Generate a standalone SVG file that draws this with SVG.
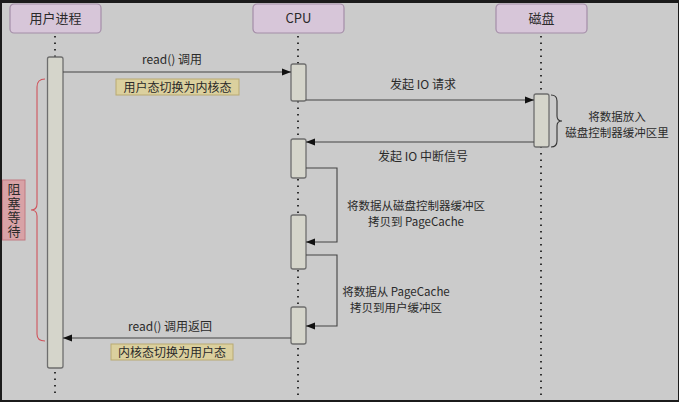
<svg xmlns="http://www.w3.org/2000/svg" width="679" height="402" viewBox="0 0 679 402">
<defs>
<style>
text{font-family:"Noto Sans CJK SC","Liberation Sans",sans-serif;font-size:12px;fill:#2a2a2a;text-anchor:middle}
.two{font-size:11.5px}
.head{fill:#d7c6d9;stroke:#a48ea8;stroke-width:1.2}
.bar{fill:#d5d5cb;stroke:#6e6e6e;stroke-width:1.3}
.life{stroke:#222;stroke-width:1.8;stroke-dasharray:1.5 5;fill:none}
.msg{stroke:#444;stroke-width:1.1;fill:none}
.note{fill:#dbd09e;stroke:#b9aa72;stroke-width:1}
</style>
<marker id="ah" viewBox="0 0 10 10" refX="10" refY="5" markerWidth="9" markerHeight="9" markerUnits="userSpaceOnUse" orient="auto">
<path d="M0,1 L10,5 L0,9 Z" fill="#111"/>
</marker>
</defs>
<rect x="0" y="0" width="679" height="402" fill="#1b1b1b"/>
<rect x="2" y="3" width="676" height="397" fill="#cbcbcb"/>

<g id="lifelines">
<line class="life" x1="55" y1="36" x2="55" y2="57"/>
<line class="life" x1="55" y1="372" x2="55" y2="398"/>
<line class="life" x1="298" y1="36" x2="298" y2="398"/>
<line class="life" x1="541" y1="36" x2="541" y2="398"/>
</g>

<g id="node-user">
<rect class="head" x="10" y="4" width="91" height="29" rx="4"/>
<text x="55.5" y="23" style="font-size:13px">用户进程</text>
</g>
<g id="node-cpu">
<rect class="head" x="253" y="4" width="91" height="29" rx="4"/>
<text x="298.5" y="23" style="font-size:13px">CPU</text>
</g>
<g id="node-disk">
<rect class="head" x="496" y="4" width="91" height="29" rx="4"/>
<text x="541.5" y="23" style="font-size:13px">磁盘</text>
</g>

<g id="activations">
<rect class="bar" x="47.5" y="57" width="15.5" height="311" rx="2"/>
<rect class="bar" x="291" y="64" width="15" height="37" rx="2"/>
<rect class="bar" x="291" y="139" width="15" height="39" rx="2"/>
<rect class="bar" x="291" y="215" width="15" height="54" rx="2"/>
<rect class="bar" x="291" y="307" width="15" height="37" rx="2"/>
<rect class="bar" x="534" y="94" width="15" height="53" rx="2"/>
</g>

<g id="connectors">
<line class="msg" x1="63" y1="72" x2="291" y2="72" marker-end="url(#ah)"/>
<line class="msg" x1="306" y1="100" x2="534" y2="100" marker-end="url(#ah)"/>
<line class="msg" x1="534" y1="142" x2="306" y2="142" marker-end="url(#ah)"/>
<polyline class="msg" points="306,168 337,168 337,242 306,242" marker-end="url(#ah)"/>
<polyline class="msg" points="306,255 337,255 337,326 306,326" marker-end="url(#ah)"/>
<line class="msg" x1="291" y1="338" x2="63" y2="338" marker-end="url(#ah)"/>
</g>

<g id="labels">
<text x="172" y="64">read() 调用</text>
<rect class="note" x="116" y="79" width="123" height="16"/>
<text x="177.5" y="91.5">用户态切换为内核态</text>
<text x="423" y="89">发起 IO 请求</text>
<text x="423" y="161">发起 IO 中断信号</text>
<text class="two" x="416" y="209.5">将数据从磁盘控制器缓冲区</text>
<text class="two" x="416" y="226.3">拷贝到 PageCache</text>
<text class="two" x="396" y="295.5">将数据从 PageCache</text>
<text class="two" x="396" y="312.3">拷贝到用户缓冲区</text>
<text x="170" y="331">read() 调用返回</text>
<rect class="note" x="111" y="344" width="122" height="16"/>
<text x="172" y="356.5">内核态切换为用户态</text>
</g>

<g id="disk-note">
<path d="M551,95 Q557,95 557,101 L557,116 Q557,121 562,121 Q557,121 557,126 L557,141 Q557,147 551,147" fill="none" stroke="#333" stroke-width="1.1"/>
<text class="two" x="617" y="120.5">将数据放入</text>
<text class="two" x="617" y="137.3">磁盘控制器缓冲区里</text>
</g>

<g id="block-note">
<path d="M45,79 Q37,79 37,87 L37,204 Q37,210 31,210 Q37,210 37,216 L37,334 Q37,341 45,341" fill="none" stroke="#d0545c" stroke-width="1.1"/>
<rect x="2.5" y="180" width="22.5" height="60" fill="#d8a2a6" stroke="#c27a82" stroke-width="1"/>
<text x="14" y="211" style="font-size:13px;writing-mode:vertical-rl;letter-spacing:1px;dominant-baseline:central">阻塞等待</text>
</g>
</svg>
